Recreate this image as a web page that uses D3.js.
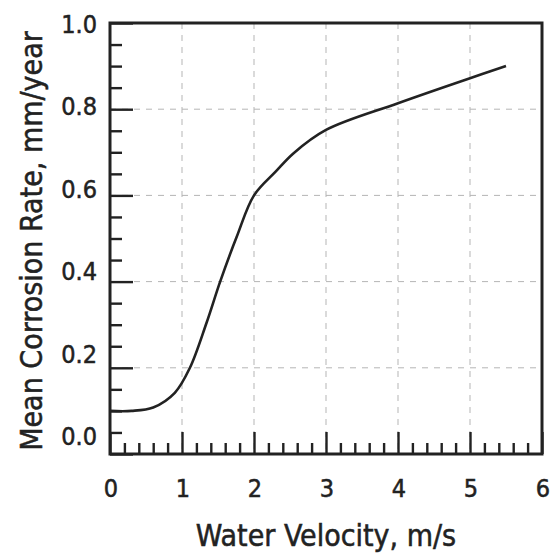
<!DOCTYPE html>
<html>
<head>
<meta charset="utf-8">
<script src="https://cdn.jsdelivr.net/npm/d3@7"></script>
<style>
  html, body { margin: 0; padding: 0; background: #fff; }
  svg { display: block; }
  text { font-family: "DejaVu Sans Condensed", "DejaVu Sans", sans-serif; font-stretch: condensed; fill: #222; stroke: #222; stroke-width: 0.5px; }
</style>
</head>
<body>
<svg id="chart" width="550" height="554"></svg>
<script>
// Data
const velocity = [0, 0.3, 0.6, 0.9, 1.11, 1.34, 1.53, 1.76, 2.0, 2.3, 2.55, 3.0, 4.0, 5.0, 5.5];
const corrosionRate = [0.100, 0.100, 0.108, 0.142, 0.200, 0.304, 0.400, 0.504, 0.600, 0.655, 0.698, 0.752, 0.814, 0.872, 0.900];
const xTickValues = [0, 1, 2, 3, 4, 5, 6];
const yTickValues = [0.0, 0.2, 0.4, 0.6, 0.8, 1.0];
const xTitle = "Water Velocity, m/s";
const yTitle = "Mean Corrosion Rate, mm/year";

const svg = d3.select("#chart");
const pLeft = 110, pTop = 23, pRight = 542, pBottom = 454;
const ink = "#222";

const x = d3.scaleLinear().domain([0, 6]).range([pLeft, pRight]);
const y = d3.scaleLinear().domain([0, 1]).range([pBottom, pTop]);
// labels in the scanned reference drift slightly from the ticks
const yLabel = d3.scaleLinear().domain([0, 1]).range([436, 24]);

// grid
const grid = svg.append("g").attr("stroke", "#b5b5b5").attr("stroke-width", 1).attr("stroke-dasharray", "6,6");
grid.selectAll("line.gx").data(xTickValues.slice(1, -1)).join("line")
  .attr("x1", d => x(d)).attr("x2", d => x(d)).attr("y1", pTop).attr("y2", pBottom);
grid.selectAll("line.gy").data(yTickValues.slice(1, -1)).join("line")
  .attr("y1", d => y(d)).attr("y2", d => y(d)).attr("x1", pLeft).attr("x2", pRight);

// ticks (inward)
const xMinor = d3.range(0, 6.001, 0.2).filter(v => Math.abs(v - Math.round(v)) > 1e-6);
const yMinor = d3.range(0, 1.0001, 0.05).filter(v => Math.abs(v * 5 - Math.round(v * 5)) > 1e-6);

svg.append("g").attr("transform", `translate(0,${pBottom})`)
  .call(d3.axisBottom(x).tickValues(xTickValues).tickSize(-22).tickFormat(""));
svg.append("g").attr("transform", `translate(0,${pBottom})`)
  .call(d3.axisBottom(x).tickValues(xMinor).tickSize(-11).tickFormat(""));
svg.append("g").attr("transform", `translate(${pLeft},0)`)
  .call(d3.axisLeft(y).tickValues(yTickValues).tickSize(-23).tickFormat(""));
svg.append("g").attr("transform", `translate(${pLeft},0)`)
  .call(d3.axisLeft(y).tickValues(yMinor).tickSize(-12).tickFormat(""));
svg.selectAll(".domain").remove();
svg.selectAll(".tick line").attr("stroke", ink).attr("stroke-width", 2.4);

// frame
svg.append("rect").attr("x", pLeft).attr("y", pTop).attr("width", pRight - pLeft).attr("height", pBottom - pTop)
  .attr("fill", "none").attr("stroke", ink).attr("stroke-width", 3);

// tick labels
svg.append("g").selectAll("text").data(xTickValues).join("text")
  .attr("x", d => x(d) + 1).attr("y", 497)
  .attr("text-anchor", "middle").attr("font-size", 25)
  .text(d => d3.format("d")(d));
svg.append("g").selectAll("text").data(yTickValues).join("text")
  .attr("x", 97).attr("y", d => yLabel(d)).attr("dy", "0.36em")
  .attr("text-anchor", "end").attr("font-size", 25)
  .text(d => d3.format(".1f")(d));

// titles
svg.append("text").attr("x", (pLeft + pRight) / 2).attr("y", 546)
  .attr("text-anchor", "middle").attr("font-size", 30).text(xTitle);
svg.append("text").attr("transform", `translate(42,241) rotate(-90)`)
  .attr("text-anchor", "middle").attr("font-size", 30).text(yTitle);

// curve
const pts = velocity.map((v, i) => [v, corrosionRate[i]]);
svg.append("path").datum(pts)
  .attr("fill", "none").attr("stroke", ink).attr("stroke-width", 2.6)
  .attr("d", d3.line().x(d => x(d[0])).y(d => y(d[1])).curve(d3.curveCatmullRom.alpha(0.5)));
</script>
</body>
</html>
